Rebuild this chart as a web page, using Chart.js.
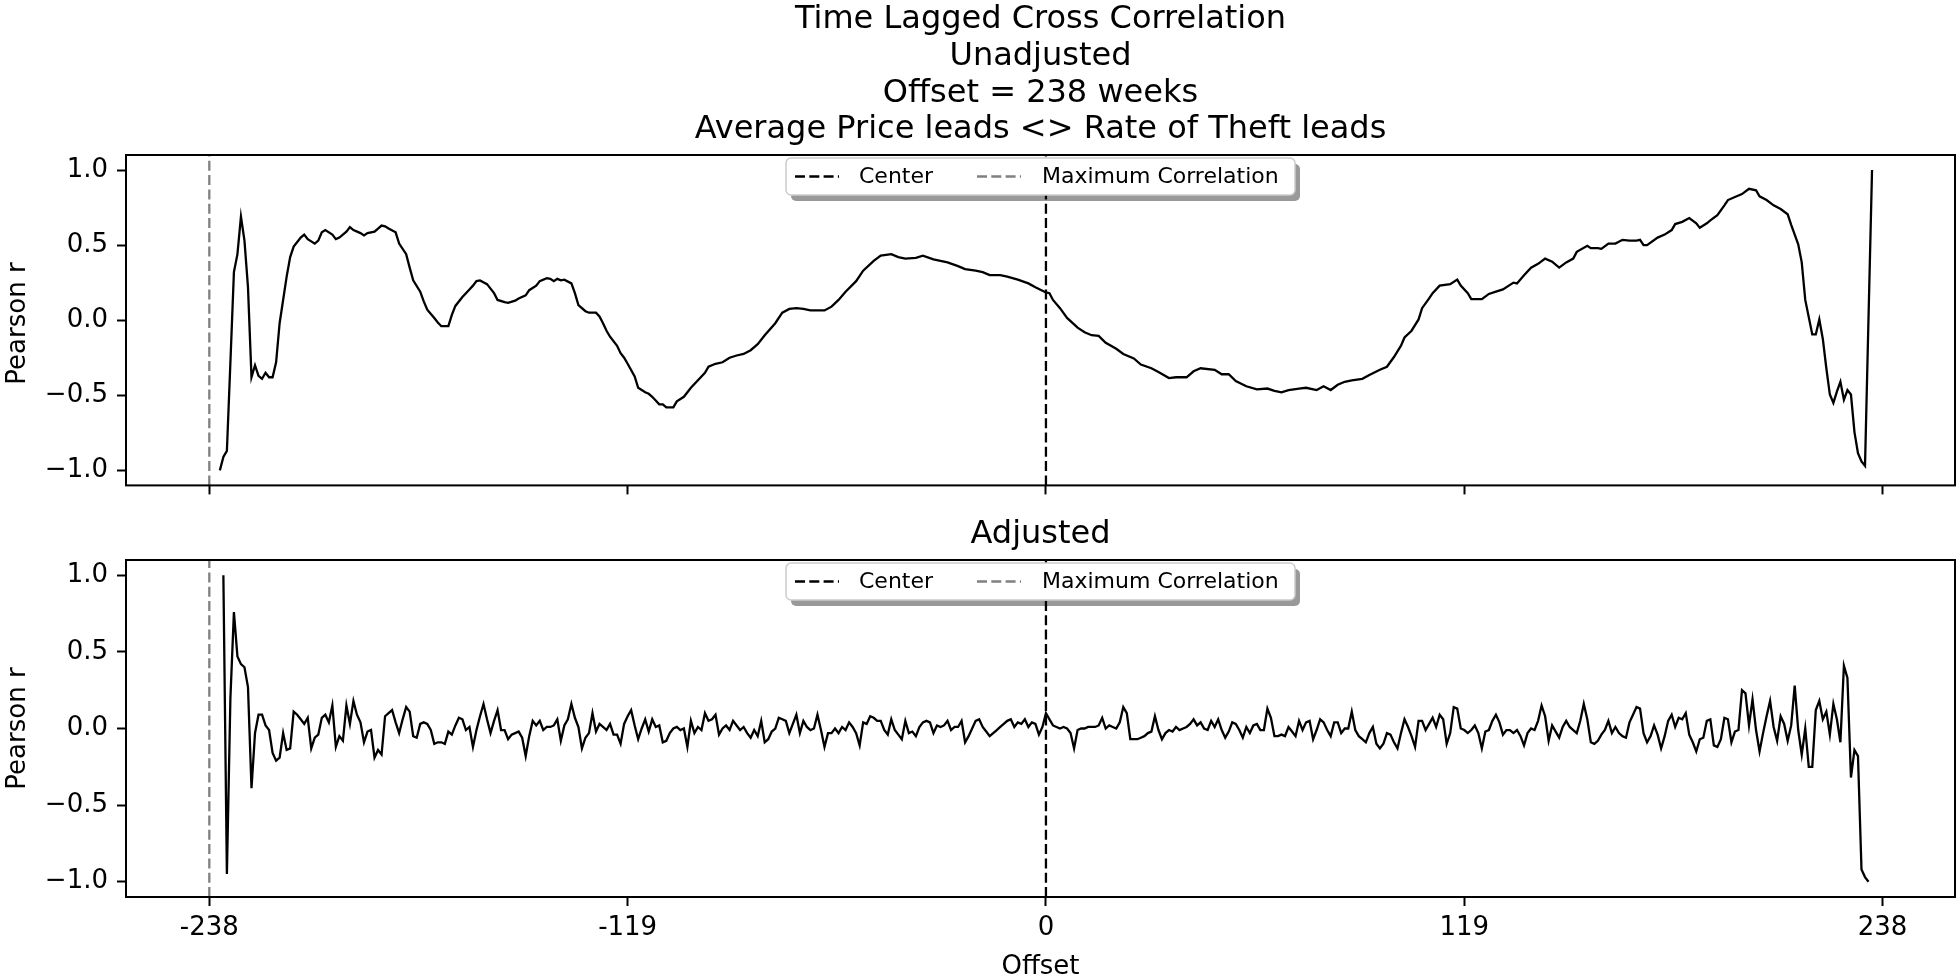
<!DOCTYPE html>
<html>
<head>
<meta charset="utf-8">
<script src="https://cdn.jsdelivr.net/npm/chart.js@4.4.1/dist/chart.umd.min.js"></script>
<style>
  html, body { margin: 0; padding: 0; background: #fff; }
  #wrap { position: relative; width: 1960px; height: 979px; overflow: hidden; }
  canvas { position: absolute; left: 0; }
</style>
</head>
<body>
<div id="wrap">
  <canvas id="topChart" width="1960" height="510" style="top:0px"></canvas>
  <canvas id="botChart" width="1960" height="469" style="top:510px"></canvas>
</div>
<script>
// --- data ---
const xTicks = [-238, -119, 0, 119, 238];
const yTicks = [-1, -0.5, 0, 0.5, 1];
const centerLag = 0;
const maxCorrLag = -238;
const titleLines = ['Time Lagged Cross Correlation', 'Unadjusted', 'Offset = 238 weeks', 'Average Price leads <> Rate of Theft leads'];
const legendLabels = ['Center', 'Maximum Correlation'];

// unadjusted: offsets (weeks) and Pearson r
const unadjOffsets = [
  -235,-234,-233,-232,-231,-230,-229,-228,-227,-226,-225,-224,-223,-222,-221,-220,-219,-218,-216,-215,
  -214,-212,-211,-210,-208,-207,-206,-205,-203,-202,-201,-199,-198,-197,-195,-194,-193,-191,-190,-189,
  -188,-187,-185,-184,-182,-181,-180,-178,-177,-176,-174,-173,-172,-170,-169,-168,-166,-164,-163,-162,
  -161,-159,-158,-157,-156,-154,-153,-151,-150,-148,-147,-145,-144,-142,-141,-140,-139,-138,-137,-135,
  -134,-133,-131,-130,-128,-127,-126,-125,-124,-122,-121,-120,-119,-117,-116,-114,-113,-112,-110,-109,
  -108,-106,-105,-103,-101,-99,-97,-96,-94,-92,-90,-88,-86,-84,-82,-80,-77,-75,-73,-71,
  -69,-67,-65,-63,-61,-59,-57,-54,-52,-49,-47,-44,-42,-40,-37,-35,-32,-30,-28,-25,
  -23,-20,-18,-16,-13,-11,-8,-5,-3,0,1,2,4,6,9,11,13,15,17,20,
  22,25,27,30,32,35,37,40,42,44,48,50,52,54,57,60,63,65,67,69,
  72,74,77,79,81,83,85,87,90,92,95,97,99,101,102,104,106,107,109,110,
  112,115,117,118,120,121,124,126,128,130,133,134,136,138,140,142,144,146,148,150,
  151,154,155,157,158,160,162,164,166,168,169,170,171,174,176,178,179,181,183,185,
  186,188,189,191,193,194,196,198,200,202,203,205,207,209,211,212,214,215,216,218,
  219,220,221,222,223,224,225,226,227,228,229,230,231,232,233,234,235
];
const unadjR = [
  -1.00,-0.91,-0.87,-0.28,0.32,0.44,0.69,0.53,0.22,-0.38,-0.30,-0.37,-0.39,-0.35,-0.38,-0.38,-0.28,-0.02,0.29,0.42,
  0.49,0.55,0.57,0.54,0.51,0.53,0.585,0.60,0.57,0.54,0.55,0.59,0.62,0.60,0.58,0.565,0.58,0.59,0.61,0.63,
  0.625,0.61,0.585,0.51,0.44,0.35,0.265,0.19,0.125,0.07,0.015,-0.015,-0.04,-0.04,0.035,0.095,0.155,0.205,0.23,0.26,
  0.265,0.24,0.21,0.18,0.135,0.12,0.115,0.13,0.145,0.165,0.20,0.23,0.26,0.28,0.275,0.26,0.275,0.265,0.27,0.245,
  0.18,0.10,0.06,0.05,0.05,0.025,-0.02,-0.07,-0.11,-0.17,-0.22,-0.25,-0.29,-0.375,-0.45,-0.48,-0.49,-0.51,-0.56,-0.56,
  -0.58,-0.58,-0.54,-0.51,-0.45,-0.40,-0.35,-0.31,-0.29,-0.28,-0.25,-0.235,-0.225,-0.20,-0.16,-0.10,-0.02,0.05,0.075,0.08,
  0.075,0.065,0.065,0.065,0.09,0.135,0.19,0.26,0.33,0.395,0.43,0.44,0.42,0.41,0.415,0.43,0.405,0.395,0.385,0.36,
  0.34,0.33,0.32,0.30,0.30,0.29,0.27,0.245,0.22,0.185,0.18,0.135,0.08,0.015,-0.05,-0.08,-0.10,-0.105,-0.15,-0.19,
  -0.225,-0.255,-0.295,-0.32,-0.345,-0.385,-0.38,-0.38,-0.34,-0.32,-0.33,-0.36,-0.36,-0.405,-0.44,-0.46,-0.455,-0.47,-0.48,-0.465,
  -0.455,-0.45,-0.465,-0.44,-0.465,-0.43,-0.41,-0.40,-0.39,-0.365,-0.33,-0.31,-0.245,-0.17,-0.115,-0.07,0.005,0.08,0.145,0.18,
  0.23,0.24,0.27,0.23,0.18,0.14,0.14,0.175,0.19,0.205,0.25,0.245,0.30,0.35,0.375,0.41,0.39,0.35,0.385,0.41,
  0.455,0.495,0.48,0.48,0.475,0.51,0.51,0.535,0.53,0.53,0.535,0.50,0.50,0.55,0.57,0.60,0.64,0.655,0.68,0.645,
  0.615,0.645,0.665,0.70,0.765,0.80,0.82,0.84,0.875,0.865,0.825,0.80,0.765,0.74,0.705,0.635,0.505,0.385,0.135,-0.095,
  -0.095,0.005,-0.125,-0.32,-0.495,-0.55,-0.475,-0.41,-0.53,-0.465,-0.495,-0.745,-0.885,-0.94,-0.97,0.02,1.00
];

// adjusted: one value per week, starting at offset -234
const adjStart = -234;
const adjR = [
  1.00,-0.95,0.20,0.76,0.47,0.42,0.40,0.27,-0.39,-0.03,
  0.09,0.09,0.02,-0.01,-0.16,-0.21,-0.19,-0.03,-0.14,-0.13,
  0.11,0.09,0.06,0.03,0.07,-0.13,-0.06,-0.04,0.07,0.09,
  0.04,0.15,-0.12,-0.05,-0.08,0.15,0.03,0.18,0.09,0.04,
  -0.09,-0.02,-0.01,-0.19,-0.14,-0.17,0.08,0.10,0.12,0.04,
  -0.03,0.06,0.14,0.11,-0.05,-0.06,0.03,0.04,0.03,-0.01,
  -0.10,-0.09,-0.09,-0.10,-0.02,-0.04,0.02,0.07,0.06,-0.01,
  0.01,-0.12,-0.01,0.08,0.16,0.06,-0.03,0.05,0.12,-0.01,
  -0.01,-0.07,-0.04,-0.03,-0.02,-0.06,-0.18,-0.05,0.05,0.02,
  0.05,-0.01,0.01,0.01,0.02,0.06,-0.08,0.02,0.06,0.16,
  0.07,0.01,-0.13,-0.06,-0.03,0.10,-0.02,0.03,0.01,-0.01,
  0.03,-0.04,-0.04,-0.10,0.03,0.08,0.12,0.02,-0.07,0.00,
  0.06,-0.02,0.06,0.01,
  0.02,-0.09,-0.08,-0.03,0.00,0.01,-0.01,0.00,-0.12,0.05,
  -0.03,0.01,-0.01,0.10,0.05,0.06,0.09,-0.04,0.00,0.02,
  -0.01,0.05,0.02,-0.01,0.01,-0.03,-0.06,-0.01,-0.05,0.05,
  -0.09,-0.07,-0.02,0.00,0.07,0.06,0.05,-0.03,0.03,0.09,
  -0.03,0.05,0.01,-0.01,0.00,0.09,-0.01,-0.12,-0.03,-0.03,
  0.00,-0.03,0.01,-0.01,0.04,0.01,-0.03,-0.11,0.04,0.03,
  0.08,0.07,0.05,0.05,-0.01,-0.04,0.06,-0.01,-0.04,-0.07,
  0.05,-0.03,-0.02,-0.05,0.01,0.04,0.05,0.04,-0.03,0.02,
  0.01,0.02,0.05,-0.01,0.01,0.01,0.05,-0.09,-0.05,0.00,
  0.05,0.06,0.01,-0.02,-0.05,-0.03,-0.01,0.01,0.03,0.05,
  0.06,0.01,0.04,0.03,0.06,0.01,0.04,0.03,-0.04,0.01,
  0.10,0.06,0.02,0.01,0.00,0.01,0.00,-0.03,-0.13,-0.01,
  0.00,0.00,0.01,0.01,0.01,0.02,0.07,0.00,0.02,0.01,
  0.00,0.04,0.14,0.10,-0.07,-0.07,-0.07,-0.06,-0.05,-0.03,
  -0.02,0.08,
  -0.01,-0.07,-0.03,-0.01,-0.02,0.01,-0.01,0.00,0.01,0.03,
  0.06,0.02,0.04,0.00,-0.01,0.05,0.01,0.06,-0.01,-0.06,
  -0.02,0.04,0.03,-0.01,-0.06,0.01,-0.03,0.02,0.03,-0.01,
  -0.01,0.13,0.07,-0.05,-0.05,-0.04,-0.05,0.01,-0.02,-0.05,
  0.05,-0.01,0.04,0.05,-0.07,-0.01,0.06,0.04,-0.01,-0.05,
  0.04,0.04,-0.03,0.00,0.00,0.11,-0.01,-0.05,-0.07,-0.09,
  -0.03,0.01,-0.10,-0.13,-0.10,-0.03,-0.04,-0.09,-0.13,-0.03,
  0.06,0.01,-0.05,-0.12,0.05,0.05,-0.01,0.03,0.07,0.01,
  0.09,0.06,-0.10,-0.03,0.14,0.13,0.00,-0.01,-0.03,-0.01,
  0.02,-0.03,-0.13,-0.02,-0.01,0.05,0.09,0.04,-0.04,-0.01,
  -0.01,-0.03,-0.01,-0.05,-0.11,-0.03,0.00,-0.01,0.05,0.15,
  0.08,-0.08,0.02,-0.02,-0.06,0.01,0.05,0.01,-0.01,-0.03,
  0.05,0.16,0.06,-0.09,-0.10,-0.08,-0.04,-0.01,0.05,-0.03,
  0.01,-0.03,-0.05,-0.06,0.04,0.09,0.14,0.13,-0.03,-0.09,
  -0.05,0.02,-0.04,-0.13,-0.05,0.05,0.09,0.01,0.07,0.06,
  0.10,-0.04,-0.09,-0.15,-0.07,-0.06,0.05,0.06,-0.11,-0.12,
  -0.07,0.07,0.06,-0.09,-0.02,-0.01,0.25,0.23,0.02,0.19,
  -0.01,-0.15,-0.03,0.08,0.18,0.01,-0.08,0.08,0.03,-0.08,
  0.02,0.28,-0.01,-0.17,0.00,-0.25,-0.25,0.12,0.18,0.06,
  0.11,-0.04,0.16,0.06,-0.09,0.41,0.33,-0.32,-0.14,-0.18,
  -0.92,-0.97,-1.00
];

// --- styling ---
const FONT = '"DejaVu Sans", "Liberation Sans", sans-serif';
const DASH = [10, 4.3];
Chart.defaults.font.family = FONT;
Chart.defaults.color = '#000';

function rr(c, x, y, w, h, r) {
  c.beginPath();
  c.moveTo(x + r, y);
  c.lineTo(x + w - r, y); c.arcTo(x + w, y, x + w, y + r, r);
  c.lineTo(x + w, y + h - r); c.arcTo(x + w, y + h, x + w - r, y + h, r);
  c.lineTo(x + r, y + h); c.arcTo(x, y + h, x, y + h - r, r);
  c.lineTo(x, y + r); c.arcTo(x, y, x + r, y, r);
  c.closePath();
}

// frame, legend with shadow, titles and axis labels
function decor(texts) {
  return {
    id: 'decor',
    afterDraw(chart) {
      const c = chart.ctx, a = chart.chartArea;
      const cx = (a.left + a.right) / 2;
      c.save();
      c.setLineDash([]);
      c.strokeStyle = '#000';
      c.lineWidth = 2;
      c.strokeRect(a.left, a.top, a.right - a.left, a.bottom - a.top);

      const lw = 509, lh = 37, lx = cx - lw / 2, ly = a.top + 3;
      c.fillStyle = 'rgba(0,0,0,0.4)';
      rr(c, lx + 5, ly + 6, lw, lh, 5); c.fill();
      c.fillStyle = '#fff';
      rr(c, lx, ly, lw, lh, 5); c.fill();
      c.strokeStyle = '#cccccc'; c.lineWidth = 1.5; c.stroke();

      const hy = ly + lh / 2;
      const handles = [
        { x: lx + 9, color: '#000', tx: lx + 73 },
        { x: lx + 191, color: '#808080', tx: lx + 256 }
      ];
      c.lineWidth = 2.3;
      c.setLineDash(DASH);
      handles.forEach(h => {
        c.strokeStyle = h.color;
        c.beginPath(); c.moveTo(h.x, hy); c.lineTo(h.x + 44, hy); c.stroke();
      });
      c.setLineDash([]);
      c.fillStyle = '#000';
      c.font = '22px ' + FONT;
      c.textAlign = 'left';
      c.textBaseline = 'alphabetic';
      handles.forEach((h, i) => c.fillText(legendLabels[i], h.tx, ly + 25));

      texts.forEach(t => {
        c.save();
        c.font = t.size + 'px ' + FONT;
        c.textAlign = 'center';
        c.textBaseline = 'alphabetic';
        c.translate(t.x == null ? cx : t.x, t.y);
        if (t.rot) c.rotate(t.rot);
        c.fillText(t.text, 0, 0);
        c.restore();
      });
      c.restore();
    }
  };
}

function makeChart(id, points, cfg) {
  const vline = (x, color) => ({
    data: [{ x: x, y: -1.1 }, { x: x, y: 1.1 }],
    borderColor: color, borderWidth: 2.3, borderDash: DASH, pointRadius: 0
  });
  return new Chart(document.getElementById(id).getContext('2d'), {
    type: 'line',
    data: {
      datasets: [
        { data: points, borderColor: '#000', borderWidth: 2.3, pointRadius: 0, tension: 0 },
        vline(centerLag, '#000'),
        vline(maxCorrLag, '#808080')
      ]
    },
    options: {
      responsive: false,
      animation: false,
      events: [],
      layout: { padding: { top: cfg.padTop, right: 5, left: 0, bottom: 0 } },
      plugins: { legend: { display: false }, tooltip: { enabled: false } },
      scales: {
        x: {
          type: 'linear', min: -261.7, max: 258.6,
          afterBuildTicks: s => { s.ticks = xTicks.map(v => ({ value: v })); },
          afterFit: s => { s.height = cfg.xAxisH; },
          border: { display: false },
          grid: { drawOnChartArea: false, drawTicks: true, tickLength: 9, tickColor: '#000', tickWidth: 2 },
          ticks: { display: cfg.xLabels, autoSkip: false, maxRotation: 0, padding: 7,
                   font: { size: 26 }, color: '#000', callback: v => String(v) }
        },
        y: {
          min: -1.1, max: 1.1,
          afterBuildTicks: s => { s.ticks = yTicks.map(v => ({ value: v })); },
          afterFit: s => { s.width = 126; },
          border: { display: false },
          grid: { drawOnChartArea: false, drawTicks: true, tickLength: 9, tickColor: '#000', tickWidth: 2 },
          ticks: { padding: 9, font: { size: 26 }, color: '#000',
                   callback: v => (v < 0 ? '\u2212' : '') + Math.abs(v).toFixed(1) }
        }
      }
    },
    plugins: [decor(cfg.texts)]
  });
}

const topPoints = unadjOffsets.map((x, i) => ({ x: x, y: unadjR[i] }));
const botPoints = adjR.map((y, i) => ({ x: adjStart + i, y: y }));

makeChart('topChart', topPoints, {
  padTop: 155, xAxisH: 18, xLabels: false,
  texts: [
    { text: titleLines[0], y: 28, size: 32 },
    { text: titleLines[1], y: 65, size: 32 },
    { text: titleLines[2], y: 101.5, size: 32 },
    { text: titleLines[3], y: 138, size: 32 },
    { text: 'Pearson r', x: 25, y: 323.5, size: 26, rot: -Math.PI / 2 }
  ]
});

makeChart('botChart', botPoints, {
  padTop: 50, xAxisH: 82, xLabels: true,
  texts: [
    { text: 'Adjusted', y: 33, size: 32 },
    { text: 'Pearson r', x: 25, y: 218.5, size: 26, rot: -Math.PI / 2 },
    { text: 'Offset', y: 464, size: 26 }
  ]
});
</script>
</body>
</html>
